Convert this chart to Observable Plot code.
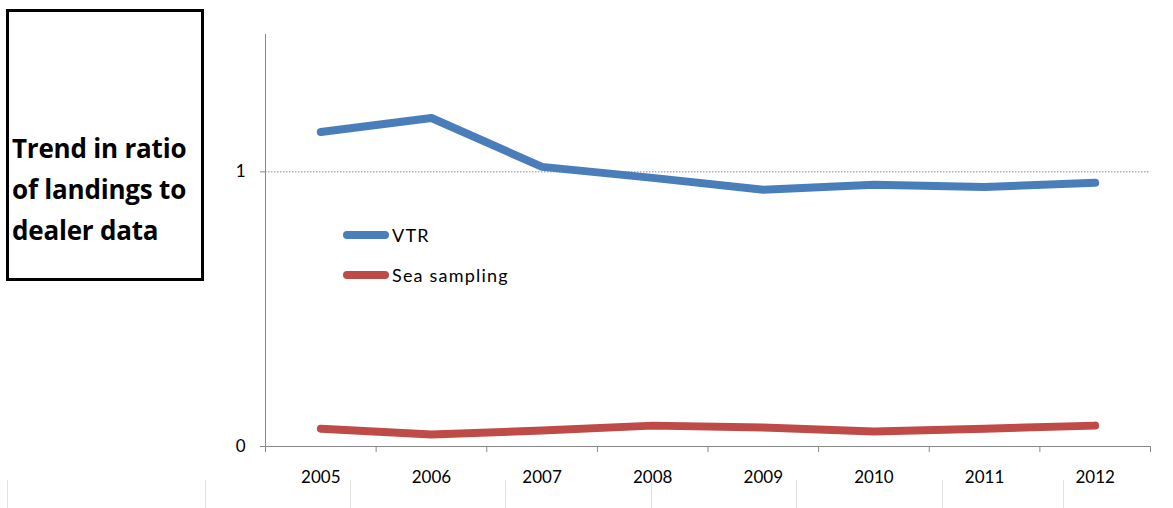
<!DOCTYPE html>
<html><head><meta charset="utf-8">
<script src="https://cdn.jsdelivr.net/npm/d3@7"></script>
<script src="https://cdn.jsdelivr.net/npm/@observablehq/plot@0.6"></script>
<style>
body{margin:0;background:#fff;width:1173px;height:508px;overflow:hidden;position:relative;font-family:Lato,"Open Sans",sans-serif}
#chart{position:absolute;left:0;top:0}
#titlebox{position:absolute;left:6px;top:9px;width:198px;height:272px;border:3px solid #000;box-sizing:border-box}
#titletext{position:absolute;left:3px;top:116px;font-family:"Open Sans",sans-serif;font-weight:bold;font-size:26px;line-height:41px;color:#000;white-space:nowrap;letter-spacing:-0.2px}
.leg{position:absolute;left:343px;display:flex;align-items:center;font-size:18px;color:#000;letter-spacing:1.2px}
.sw{width:46px;height:8px;border-radius:4px;margin-right:3px}
.art{position:absolute;top:480px;width:1px;height:28px;background:#e2e2e2}
</style></head>
<body>
<div id="chart"></div>
<div id="titlebox"><div id="titletext">Trend in ratio<br>of landings to<br>dealer data</div></div>
<div id="legend"></div>
<script>
const years = [2005, 2006, 2007, 2008, 2009, 2010, 2011, 2012];
const vtr = [1.145, 1.196, 1.018, 0.978, 0.935, 0.953, 0.945, 0.960];
const seaSampling = [0.065, 0.044, 0.058, 0.076, 0.069, 0.055, 0.065, 0.076];
const seriesNames = ["VTR", "Sea sampling"];
const seriesColors = ["#4a7ebb", "#be4b48"];
const yTicks = [0, 1];

const data = years.flatMap((yr, i) => [
  {year: yr, value: vtr[i], series: seriesNames[0]},
  {year: yr, value: seaSampling[i], series: seriesNames[1]}
]);
const bounds = [...years.map(y => y - 0.5), years[years.length - 1] + 0.5];

const chart = Plot.plot({
  width: 1173, height: 508,
  marginLeft: 265, marginRight: 23, marginTop: 34, marginBottom: 62,
  x: {domain: [bounds[0], bounds[bounds.length - 1]]},
  y: {domain: [0, 1.5]},
  color: {domain: seriesNames, range: seriesColors},
  style: {fontFamily: "Lato, 'Open Sans', sans-serif", fontSize: "17px", color: "#000", background: "transparent"},
  marks: [
    Plot.gridY(yTicks.filter(d => d > 0), {stroke: "#8a8a8a", strokeOpacity: 1, strokeDasharray: "1.5,1.5"}),
    Plot.ruleX([bounds[0]], {stroke: "#8a8a8a"}),
    Plot.ruleY([0], {stroke: "#8a8a8a"}),
    Plot.axisY({ticks: yTicks, tickSize: 5, tickPadding: 15, stroke: "#8a8a8a", label: null, tickFormat: d => String(d)}),
    Plot.axisX({ticks: bounds, tickSize: 6, tickFormat: () => "", label: null, stroke: "#8a8a8a"}),
    Plot.axisX({ticks: years, tickSize: 0, tickPadding: 24, tickFormat: d => String(d), label: null}),
    Plot.line(data, {x: "year", y: "value", z: "series", stroke: "series", strokeWidth: 8, strokeLinecap: "round", strokeLinejoin: "round"})
  ]
});
document.getElementById("chart").appendChild(chart);

const legend = document.getElementById("legend");
const legTops = [224, 264];
seriesNames.forEach((name, i) => {
  const row = document.createElement("div");
  row.className = "leg";
  row.style.top = legTops[i] + "px";
  row.innerHTML = `<div class="sw" style="background:${seriesColors[i]}"></div><span>${name}</span>`;
  legend.appendChild(row);
});
[7, 205, 350, 505, 651, 796, 942, 1063].forEach(x => {
  const d = document.createElement("div");
  d.className = "art"; d.style.left = x + "px";
  document.body.appendChild(d);
});
</script>
</body></html>
